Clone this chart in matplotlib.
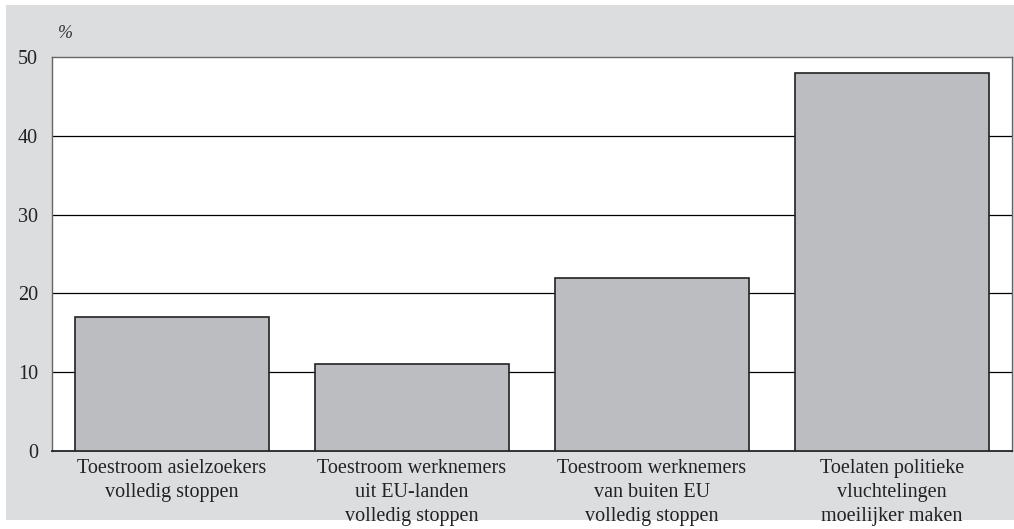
import matplotlib.pyplot as plt
from matplotlib.patches import Rectangle

categories = [
    "Toestroom asielzoekers\nvolledig stoppen",
    "Toestroom werknemers\nuit EU-landen\nvolledig stoppen",
    "Toestroom werknemers\nvan buiten EU\nvolledig stoppen",
    "Toelaten politieke\nvluchtelingen\nmoeilijker maken",
]
values = [17, 11, 22, 48]
yticks = [0, 10, 20, 30, 40, 50]

plt.rcParams["font.family"] = ["Liberation Serif", "DejaVu Serif"]

W, H = 1014, 529
fig = plt.figure(figsize=(W / 100, H / 100), dpi=100, facecolor="white")
# grey panel behind the chart
fig.patches.append(Rectangle((6 / W, 1 - 520 / H), 1 - 6 / W, (520 - 5) / H,
                             transform=fig.transFigure, facecolor="#dcdddf",
                             edgecolor="none", zorder=-10))

ax = fig.add_axes([52 / W, 1 - 451 / H, 960 / W, (451 - 57) / H])
ax.set_facecolor("white")

x = range(len(values))
ax.bar(x, values, width=194 / 240, color="#bcbdc0", edgecolor="#222222",
       linewidth=1.2, zorder=3)

for v in yticks[1:-1]:
    ax.axhline(v, color="black", linewidth=0.9, zorder=1)

ax.set_xlim(-0.5, 3.5)
ax.set_ylim(0, 50)
ax.set_yticks(yticks)
ax.set_xticks(list(x))
ax.set_xticklabels(categories, fontsize=14.5, linespacing=1.35)
ax.tick_params(axis="both", length=0, colors="#222222")
ax.tick_params(axis="y", pad=10, labelsize=14.5)
ax.tick_params(axis="x", pad=6)

for s in ["left", "top", "right"]:
    ax.spines[s].set_color("#666666")
    ax.spines[s].set_linewidth(1.0)
ax.spines["bottom"].set_color("#222222")
ax.spines["bottom"].set_linewidth(1.3)

fig.text(58 / W, 1 - 33 / H, "%", fontsize=13, style="italic",
         color="#333333", va="center", ha="left")

plt.savefig("out.png", dpi=100, facecolor=fig.get_facecolor())
